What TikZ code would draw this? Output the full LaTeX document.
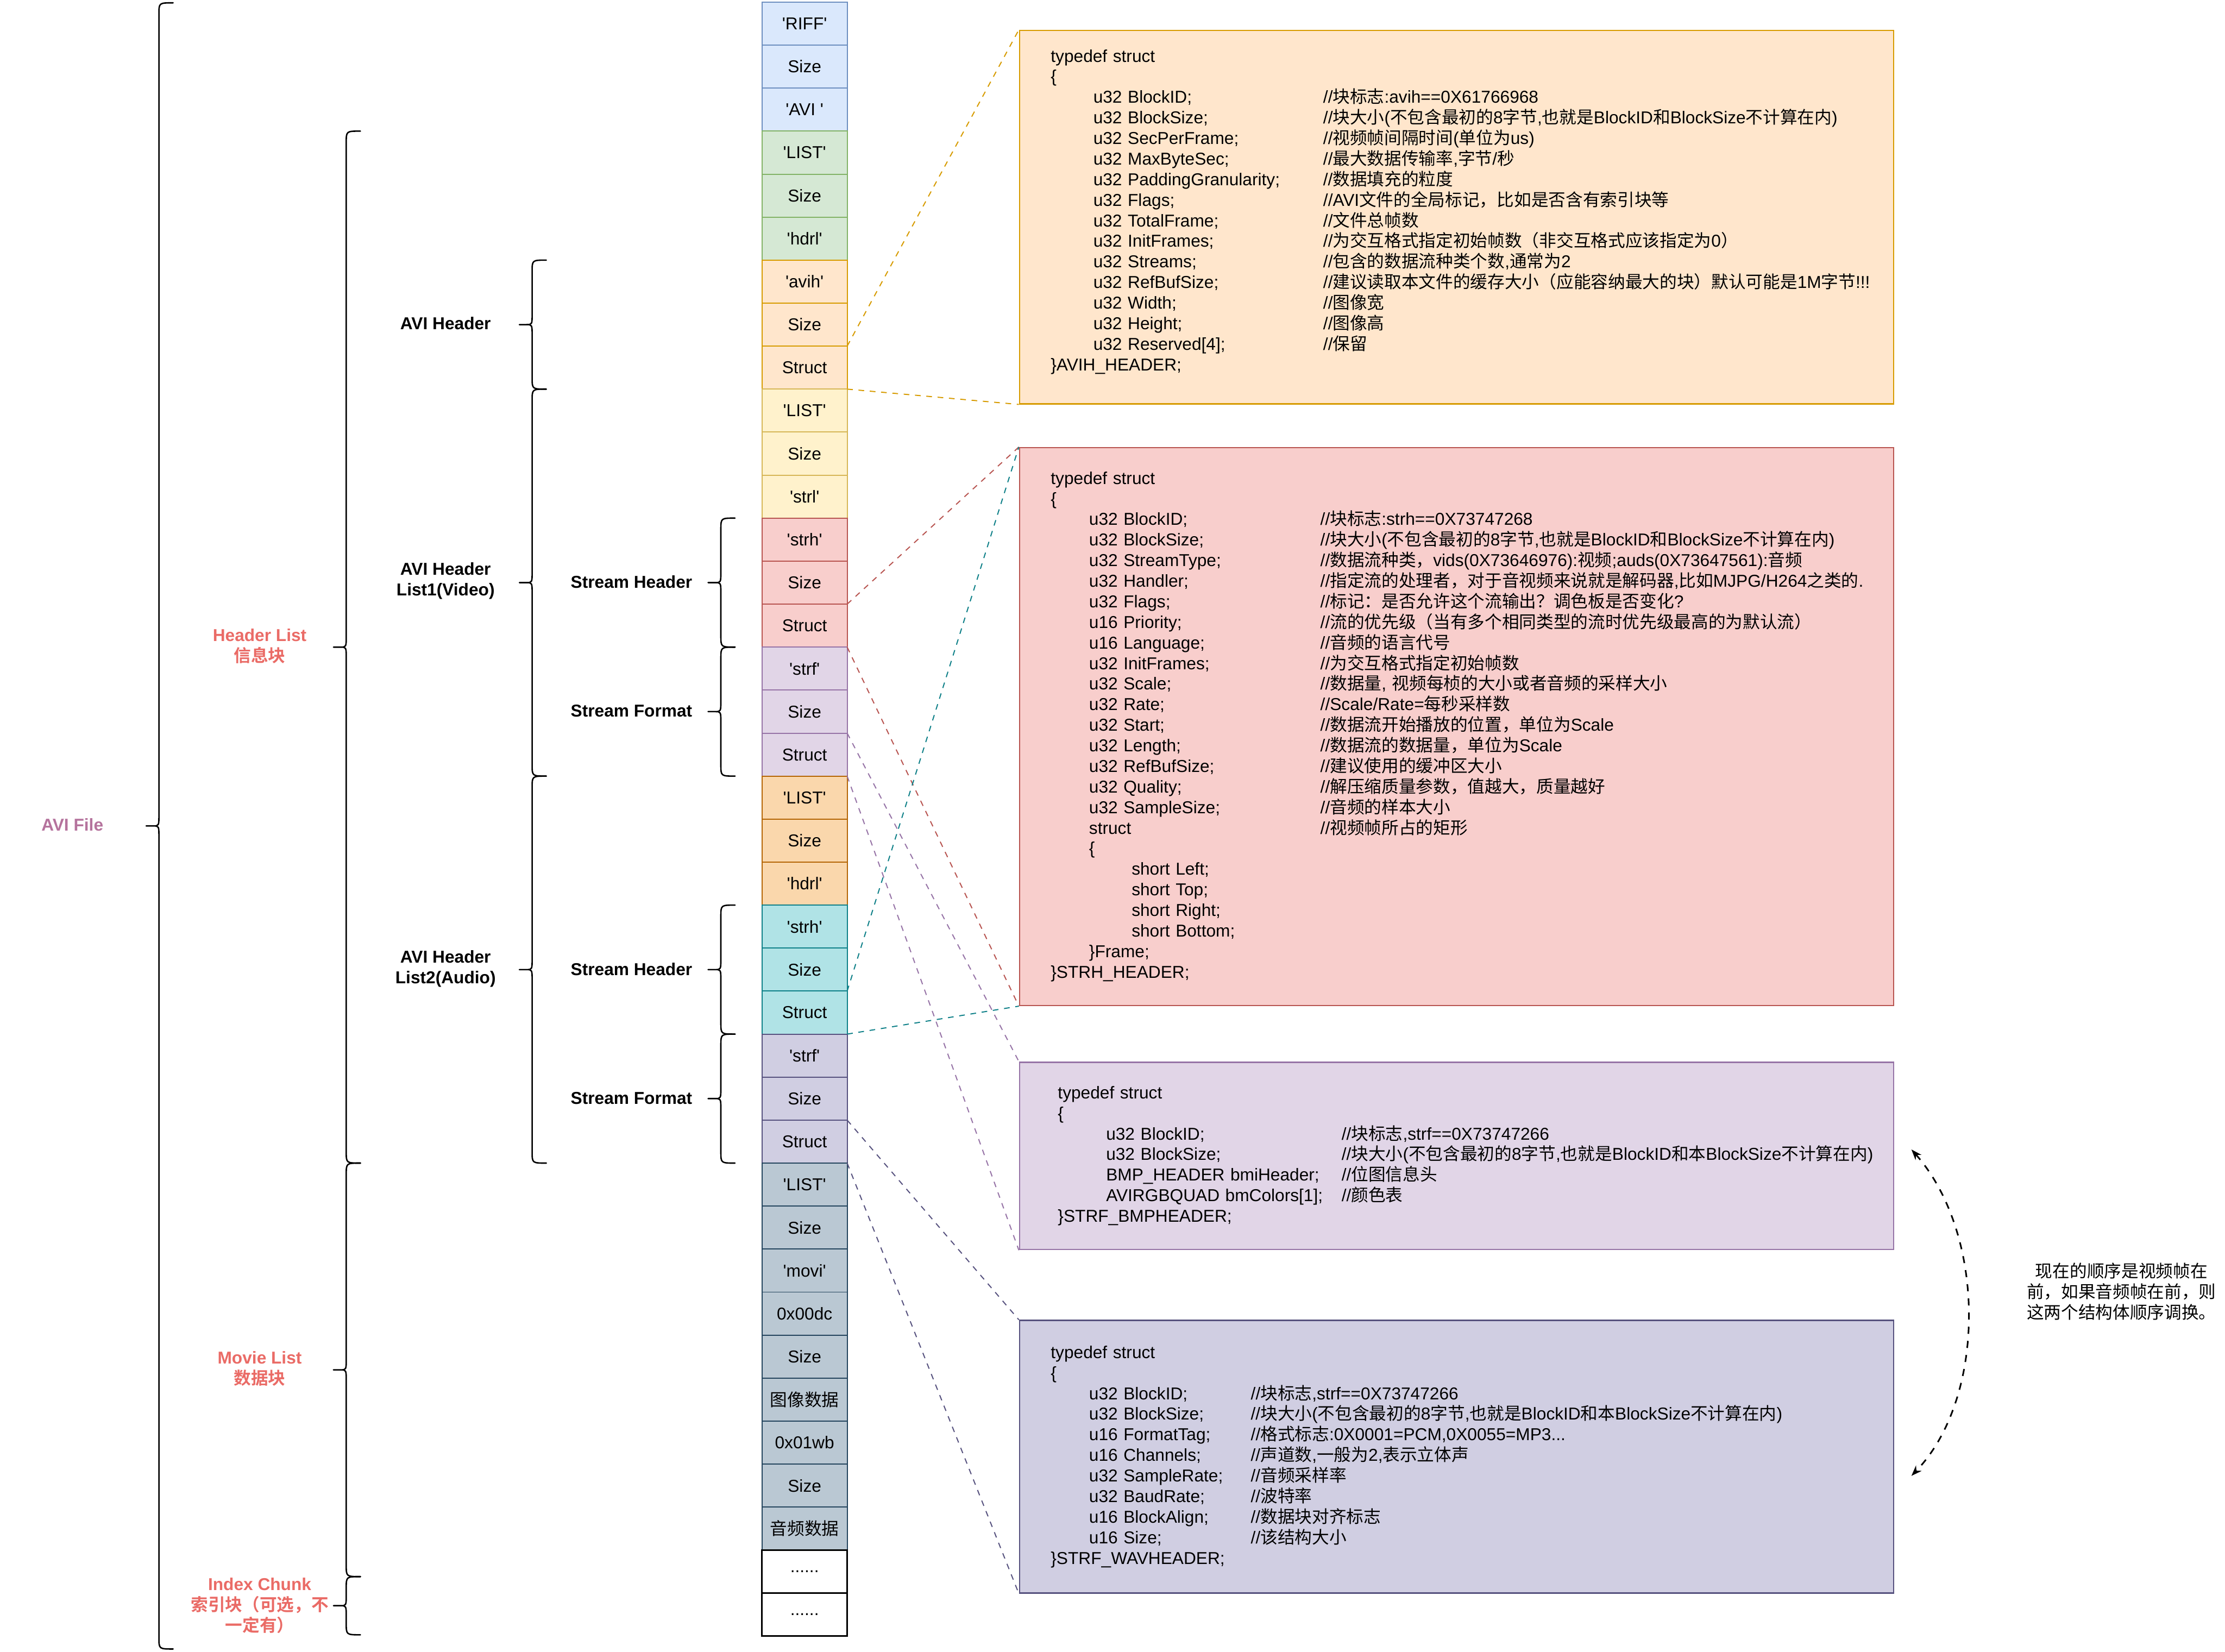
\documentclass[tikz,border=0pt]{standalone}
\usepackage{fontspec}
\setmainfont{Liberation Sans}
\newfontfamily\cjkfam{Noto Sans CJK SC}[BoldFont={Noto Sans CJK SC Bold}]
\usetikzlibrary{positioning,arrows.meta}

% switch to the CJK face at every Latin/Chinese boundary
\XeTeXinterchartokenstate=1
\chardef\cjkcls=7
\newcount\cjkidx
\newcommand{\cjkrange}[2]{\cjkidx=#1\relax
  \loop\XeTeXcharclass\cjkidx=\cjkcls\relax\advance\cjkidx by 1\relax\ifnum\cjkidx<#2\relax\repeat}
\cjkrange{"3000}{"3040}
\cjkrange{"4E00}{"A000}
\cjkrange{"FF00}{"FFF0}
\XeTeXinterchartoks 0 \cjkcls = {\cjkfam}
\XeTeXinterchartoks 4095 \cjkcls = {\cjkfam}
\XeTeXinterchartoks \cjkcls 0 = {\rmfamily}
\XeTeXinterchartoks \cjkcls 4095 = {\rmfamily}

\definecolor{bluefill}{HTML}{DAE8FC}   \definecolor{blueline}{HTML}{6C8EBF}
\definecolor{greenfill}{HTML}{D5E8D4}  \definecolor{greenline}{HTML}{82B366}
\definecolor{orangefill}{HTML}{FFE6CC} \definecolor{orangeline}{HTML}{D79B00}
\definecolor{yellowfill}{HTML}{FFF2CC} \definecolor{yellowline}{HTML}{D6B656}
\definecolor{redfill}{HTML}{F8CECC}    \definecolor{redline}{HTML}{B85450}
\definecolor{purplefill}{HTML}{E1D5E7} \definecolor{purpleline}{HTML}{9673A6}
\definecolor{amberfill}{HTML}{FAD7AC}  \definecolor{amberline}{HTML}{B46504}
\definecolor{tealfill}{HTML}{B0E3E6}   \definecolor{tealline}{HTML}{0E8088}
\definecolor{lavfill}{HTML}{D0CEE2}    \definecolor{lavline}{HTML}{56517E}
\definecolor{slatefill}{HTML}{BAC8D3}  \definecolor{slateline}{HTML}{23445D}
\definecolor{labelred}{HTML}{EA6B66}
\definecolor{filepink}{HTML}{B5739D}

\newcommand{\fs}{\fontsize{13.8pt}{16.5pt}\selectfont}
\newcommand{\q}[1]{\textquotesingle#1\textquotesingle}
\newlength{\indw}
\newlength{\colw}
\newcommand{\setcols}[3]{\leftskip=#1\relax\setlength{\indw}{#2}\setlength{\colw}{#3}}
\newcommand{\mbr}[1]{\hspace*{\indw}\makebox[\colw][l]{#1}}
% curly bracket: spine x, top y, bottom y
\newcommand{\curly}[3]{%
  \pgfmathsetmacro{\ymid}{(#2+#3)/2}%
  \draw[bracestroke] (#1+10,#2) .. controls (#1,#2) .. (#1,#2+8)
    -- (#1,\ymid-8) .. controls (#1,\ymid) .. (#1-4,\ymid) -- (#1-9,\ymid)
    -- (#1-4,\ymid) .. controls (#1,\ymid) .. (#1,\ymid+8)
    -- (#1,#3-8) .. controls (#1,#3) .. (#1+10,#3);}

\begin{document}
\begin{tikzpicture}[
    x=0.4mm, y=-0.4mm,
    >={Stealth[length=3mm,width=2.2mm]},
    every node/.style={font=\fs},
    cell/.style={draw, line width=0.3mm, minimum width=24mm, minimum height=12.12mm, inner sep=0pt, outer sep=0pt},
    bluecell/.style={cell, fill=bluefill, draw=blueline},
    greencell/.style={cell, fill=greenfill, draw=greenline},
    orangecell/.style={cell, fill=orangefill, draw=orangeline},
    yellowcell/.style={cell, fill=yellowfill, draw=yellowline},
    redcell/.style={cell, fill=redfill, draw=redline},
    purplecell/.style={cell, fill=purplefill, draw=purpleline},
    ambercell/.style={cell, fill=amberfill, draw=amberline},
    tealcell/.style={cell, fill=tealfill, draw=tealline},
    lavcell/.style={cell, fill=lavfill, draw=lavline},
    slatecell/.style={cell, fill=slatefill, draw=slateline},
    blankcell/.style={cell, fill=white, draw=black, line width=0.5mm},
    structbox/.style={draw, line width=0.4mm, minimum width=246.4mm, text width=246.4mm, inner xsep=0pt, inner ysep=0pt, align=left, anchor=north west},
    lbl/.style={font=\fs\bfseries, align=center},
    linkline/.style={line width=0.3mm, dash pattern=on 1.6mm off 1.6mm},
    bracestroke/.style={line width=0.4mm, line cap=round, line join=round},
    swaparrow/.style={<->, line width=0.45mm, dash pattern=on 2mm off 2mm},
]
\fill[white] (0,0) rectangle (1568,1164);

% ---- RIFF header ----
\node[bluecell] (riff) at (567,16.65) {\q{RIFF}};
\node[bluecell, below=0pt of riff] (riffsize) {Size};
\node[bluecell, below=0pt of riffsize] (avi) {\q{AVI }};
% ---- hdrl list ----
\node[greencell, below=0pt of avi] (hlist) {\q{LIST}};
\node[greencell, below=0pt of hlist] (hsize) {Size};
\node[greencell, below=0pt of hsize] (hdrl) {\q{hdrl}};
\node[orangecell, below=0pt of hdrl] (avih) {\q{avih}};
\node[orangecell, below=0pt of avih] (avihsize) {Size};
\node[orangecell, below=0pt of avihsize] (avihstruct) {Struct};
% ---- video stream list ----
\node[yellowcell, below=0pt of avihstruct] (vlist) {\q{LIST}};
\node[yellowcell, below=0pt of vlist] (vsize) {Size};
\node[yellowcell, below=0pt of vsize] (vstrl) {\q{strl}};
\node[redcell, below=0pt of vstrl] (vstrh) {\q{strh}};
\node[redcell, below=0pt of vstrh] (vstrhsize) {Size};
\node[redcell, below=0pt of vstrhsize] (vstrhstruct) {Struct};
\node[purplecell, below=0pt of vstrhstruct] (vstrf) {\q{strf}};
\node[purplecell, below=0pt of vstrf] (vstrfsize) {Size};
\node[purplecell, below=0pt of vstrfsize] (vstrfstruct) {Struct};
% ---- audio stream list ----
\node[ambercell, below=0pt of vstrfstruct] (alist) {\q{LIST}};
\node[ambercell, below=0pt of alist] (asize) {Size};
\node[ambercell, below=0pt of asize] (ahdrl) {\q{hdrl}};
\node[tealcell, below=0pt of ahdrl] (astrh) {\q{strh}};
\node[tealcell, below=0pt of astrh] (astrhsize) {Size};
\node[tealcell, below=0pt of astrhsize] (astrhstruct) {Struct};
\node[lavcell, below=0pt of astrhstruct] (astrf) {\q{strf}};
\node[lavcell, below=0pt of astrf] (astrfsize) {Size};
\node[lavcell, below=0pt of astrfsize] (astrfstruct) {Struct};
% ---- movi list ----
\node[slatecell, below=0pt of astrfstruct] (mlist) {\q{LIST}};
\node[slatecell, below=0pt of mlist] (msize) {Size};
\node[slatecell, below=0pt of msize] (movi) {\q{movi}};
\node[slatecell, below=0pt of movi] (vchunk) {0x00dc};
\node[slatecell, below=0pt of vchunk] (vchunksize) {Size};
\node[slatecell, below=0pt of vchunksize] (vdata) {图像数据};
\node[slatecell, below=0pt of vdata] (achunk) {0x01wb};
\node[slatecell, below=0pt of achunk] (achunksize) {Size};
\node[slatecell, below=0pt of achunksize] (adata) {音频数据};
% ---- index ----
\node[blankcell, below=0pt of adata] (idx1) {......};
\node[blankcell, below=0pt of idx1] (idx2) {......};

% ---- Braces and their labels ----
\curly{112}{2}{1162}
\curly{244}{92.4}{819.6}
\curly{244}{819.6}{1111}
\curly{244}{1111}{1152}
\curly{375}{183.3}{274.2}
\curly{375}{274.2}{546.9}
\curly{375}{546.9}{819.6}
\curly{508}{365.1}{456}
\curly{508}{456}{546.9}
\curly{508}{637.8}{728.7}
\curly{508}{728.7}{819.6}

\node[lbl, text=filepink] (avifile) at (51,581) {AVI File};
\node[lbl, text=labelred] (hdrlist) at (183,455.5) {Header List\\信息块};
\node[lbl, text=labelred] (movilist) at (183,964.5) {Movie List\\数据块};
\node[lbl, text=labelred] (idxchunk) at (183,1131.5) {Index Chunk\\索引块（可选，不\\一定有）};
\node[lbl] (avihdr) at (314,228) {AVI Header};
\node[lbl] (vlisthdr) at (314,409.5) {AVI Header\\List1(Video)};
\node[lbl] (alisthdr) at (314,682.5) {AVI Header\\List2(Audio)};
\node[lbl] (vstrhlbl) at (445,410) {Stream Header};
\node[lbl] (vstrflbl) at (445,501) {Stream Format};
\node[lbl] (astrhlbl) at (445,683) {Stream Header};
\node[lbl] (astrflbl) at (445,774) {Stream Format};

% ---- Struct definitions ----
\node[structbox, fill=orangefill, draw=orangeline, minimum height=105.2mm] (avihbox) at (718,21) {\setcols{8.8mm}{12mm}{64.8mm}%
typedef struct\\
\{\\
\mbr{u32 BlockID;}//块标志:avih==0X61766968\\
\mbr{u32 BlockSize;}//块大小(不包含最初的8字节,也就是BlockID和BlockSize不计算在内)\\
\mbr{u32 SecPerFrame;}//视频帧间隔时间(单位为us)\\
\mbr{u32 MaxByteSec;}//最大数据传输率,字节/秒\\
\mbr{u32 PaddingGranularity;}//数据填充的粒度\\
\mbr{u32 Flags;}//AVI文件的全局标记，比如是否含有索引块等\\
\mbr{u32 TotalFrame;}//文件总帧数\\
\mbr{u32 InitFrames;}//为交互格式指定初始帧数（非交互格式应该指定为0）\\
\mbr{u32 Streams;}//包含的数据流种类个数,通常为2\\
\mbr{u32 RefBufSize;}//建议读取本文件的缓存大小（应能容纳最大的块）默认可能是1M字节!!!\\
\mbr{u32 Width;}//图像宽\\
\mbr{u32 Height;}//图像高\\
\mbr{u32 Reserved[4];}//保留\\
\}AVIH\_HEADER;\rule[-4mm]{0pt}{1pt}\par};

\node[structbox, fill=redfill, draw=redline, minimum height=157.2mm] (strhbox) at (718,315) {\setcols{8.8mm}{10.8mm}{65.2mm}%
typedef struct\\
\{\\
\mbr{u32 BlockID;}//块标志:strh==0X73747268\\
\mbr{u32 BlockSize;}//块大小(不包含最初的8字节,也就是BlockID和BlockSize不计算在内)\\
\mbr{u32 StreamType;}//数据流种类，vids(0X73646976):视频;auds(0X73647561):音频\\
\mbr{u32 Handler;}//指定流的处理者，对于音视频来说就是解码器,比如MJPG/H264之类的.\\
\mbr{u32 Flags;}//标记：是否允许这个流输出？调色板是否变化?\\
\mbr{u16 Priority;}//流的优先级（当有多个相同类型的流时优先级最高的为默认流）\\
\mbr{u16 Language;}//音频的语言代号\\
\mbr{u32 InitFrames;}//为交互格式指定初始帧数\\
\mbr{u32 Scale;}//数据量, 视频每桢的大小或者音频的采样大小\\
\mbr{u32 Rate;}//Scale/Rate=每秒采样数\\
\mbr{u32 Start;}//数据流开始播放的位置，单位为Scale\\
\mbr{u32 Length;}//数据流的数据量，单位为Scale\\
\mbr{u32 RefBufSize;}//建议使用的缓冲区大小\\
\mbr{u32 Quality;}//解压缩质量参数，值越大，质量越好\\
\mbr{u32 SampleSize;}//音频的样本大小\\
\mbr{struct}//视频帧所占的矩形\\
\hspace*{\indw}\{\\
\hspace*{22.8mm}short Left;\\
\hspace*{22.8mm}short Top;\\
\hspace*{22.8mm}short Right;\\
\hspace*{22.8mm}short Bottom;\\
\hspace*{\indw}\}Frame;\\
\}STRH\_HEADER;\par};

\node[structbox, fill=purplefill, draw=purpleline, minimum height=52.8mm] (bmpbox) at (718,748) {\setcols{10.8mm}{13.6mm}{66.4mm}%
typedef struct\\
\{\\
\mbr{u32 BlockID;}//块标志,strf==0X73747266\\
\mbr{u32 BlockSize;}//块大小(不包含最初的8字节,也就是BlockID和本BlockSize不计算在内)\\
\mbr{BMP\_HEADER bmiHeader;}//位图信息头\\
\mbr{AVIRGBQUAD bmColors[1];}//颜色表\\
\}STRF\_BMPHEADER;\par};

\node[structbox, fill=lavfill, draw=lavline, minimum height=76.8mm] (wavbox) at (718,930) {\setcols{8.8mm}{10.8mm}{45.6mm}%
typedef struct\\
\{\\
\mbr{u32 BlockID;}//块标志,strf==0X73747266\\
\mbr{u32 BlockSize;}//块大小(不包含最初的8字节,也就是BlockID和本BlockSize不计算在内)\\
\mbr{u16 FormatTag;}//格式标志:0X0001=PCM,0X0055=MP3...\\
\mbr{u16 Channels;}//声道数,一般为2,表示立体声\\
\mbr{u32 SampleRate;}//音频采样率\\
\mbr{u32 BaudRate;}//波特率\\
\mbr{u16 BlockAlign;}//数据块对齐标志\\
\mbr{u16 Size;}//该结构大小\\
\}STRF\_WAVHEADER;\par};

% ---- Links from the Struct cells ----
\draw[linkline, orangeline] (avihsize.south east) -- (avihbox.north west);
\draw[linkline, orangeline] (avihstruct.south east) -- (avihbox.south west);
\draw[linkline, redline] (vstrhsize.south east) -- (strhbox.north west);
\draw[linkline, redline] (vstrhstruct.south east) -- (strhbox.south west);
\draw[linkline, purpleline] (vstrfsize.south east) -- (bmpbox.north west);
\draw[linkline, purpleline] (vstrfstruct.south east) -- (bmpbox.south west);
\draw[linkline, tealline] (astrhsize.south east) -- (strhbox.north west);
\draw[linkline, tealline] (astrhstruct.south east) -- (strhbox.south west);
\draw[linkline, lavline] (astrfsize.south east) -- (wavbox.north west);
\draw[linkline, lavline] (astrfstruct.south east) -- (wavbox.south west);

% ---- Order note ----
\node[align=center] (swapnote) at (1495,910) {现在的顺序是视频帧在\\前，如果音频帧在前，则\\这两个结构体顺序调换。};
\coordinate (swaptop) at (1347,810);
\coordinate (swapbot) at (1347,1040);
\draw[swaparrow] (swaptop) .. controls (1400,870) and (1400,985) .. (swapbot);

\end{tikzpicture}
\end{document}
